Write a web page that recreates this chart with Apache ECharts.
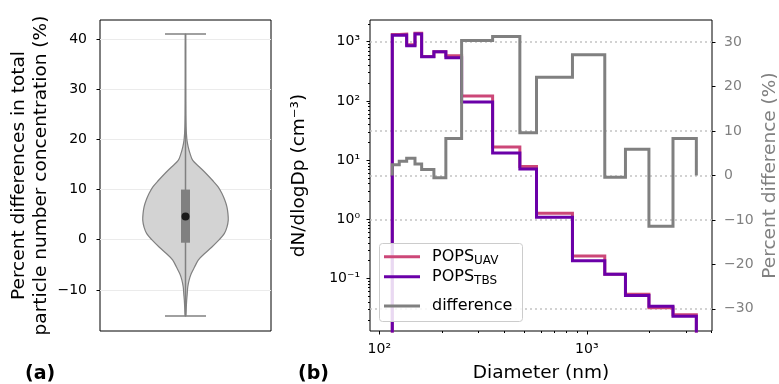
<!DOCTYPE html>
<html>
<head>
<meta charset="utf-8">
<script src="https://cdn.jsdelivr.net/npm/echarts@6/dist/echarts.min.js"></script>
<style>
  html, body { margin: 0; background: #fff; }
  #chart { width: 779px; height: 384px; }
</style>
</head>
<body>
<div id="chart"></div>
<script>
// (a) violin of percent differences: level -> relative density
const violinValues = [-15.2, -14.8, -13.4, -12, -10.8, -9.4, -8, -6.8, -5.5, -4, -2.8, -1.5, 0, 1.2, 2.5, 3.9,
  5.2, 6.5, 7.8, 9.2, 10.5, 11.8, 13.2, 14.5, 15.8, 17.2, 18.5, 19.8, 21.2, 22.5, 25, 30, 35, 41];
const violinDensity = [0.005, 0.012, 0.019, 0.028, 0.04, 0.053, 0.086, 0.133, 0.209, 0.302, 0.442, 0.612, 0.79, 0.907, 0.97, 1.0,
  0.993, 0.97, 0.923, 0.853, 0.767, 0.635, 0.481, 0.326, 0.17, 0.105, 0.063, 0.035, 0.021, 0.014, 0.008, 0.005, 0.004, 0.003];
const boxStats = { low: -15.2, q1: -0.6, median: 4.65, q3: 10, high: 41 };

// (b) size distributions, bin edges in nm
const binEdges = [115.5, 124.8, 135.5, 148.6, 160, 183.3, 209.3, 249.3, 351.7, 475.8, 572.3, 853, 1221, 1536, 1993, 2603, 3373];
const popsUav = [1320, 1340, 888, 1385, 565, 674, 580, 121, 16.6, 7.8, 1.26, 0.239, 0.118, 0.054, 0.032, 0.0245];
const popsTbs = [1290, 1300, 855, 1350, 557, 677, 535, 96, 13.2, 7.1, 1.08, 0.2, 0.118, 0.0515, 0.034, 0.023];
const percentDiff = [2.4, 3.2, 3.9, 2.6, 1.35, -0.5, 8.3, 30.4, 31.3, 9.6, 22.1, 27.2, -0.4, 5.9, -11.4, 8.3];

const violinTicks = [-10, 0, 10, 20, 30, 40];
const diamTicks = [100, 1000];
const dndlogTicks = [0.1, 1, 10, 100, 1000];
const diffTicks = [-30, -20, -10, 0, 10, 20, 30];
const diffGuides = [30, 10, 0, -10, -30];

const FONT = 'DejaVu Sans';
const violinHalf = 0.5;   // widest point, in x-axis units of panel (a)
const capHalf = 0.24;

// step outline that drops to the baseline at both ends (like plt.stairs)
function stairs(values, baseline) {
  const n = values.length;
  const pts = [[binEdges[0], baseline]];
  values.forEach((v, i) => pts.push([binEdges[i], v]));
  pts.push([binEdges[n], values[n - 1]]);
  pts.push([binEdges[n], baseline]);
  return pts;
}

function logMinor(lo, hi) {
  const out = [];
  for (let e = Math.floor(Math.log10(lo)); e <= Math.ceil(Math.log10(hi)); e++) {
    for (let m = 2; m <= 9; m++) {
      const v = m * Math.pow(10, e);
      if (v > lo && v < hi) out.push(v);
    }
  }
  return out;
}

const supMap = { '-': '\u207B', '0': '\u2070', '1': '\u00B9', '2': '\u00B2', '3': '\u00B3' };
const pow10 = (v) => '10' + String(Math.round(Math.log10(v))).split('').map((c) => supMap[c]).join('');
const minus = (v) => String(v).replace('-', '\u2212');

const xMin = 90.2, xMax = 4013;
const yMin = 0.01297, yMax = 2326;

const tickStyle = { lineStyle: { color: '#000', width: 1 } };
const labelBase = { fontFamily: FONT, fontSize: 14, color: '#000' };

const chart = echarts.init(document.getElementById('chart'), null, { renderer: 'canvas' });

const legendBase = {
  orient: 'vertical', padding: 0, itemWidth: 36, itemHeight: 3, icon: 'rect', left: 384, z: 110,
  formatter: (name) => name.replace(/_(\w+)/, '{sub|$1}'),
  textStyle: {
    fontFamily: FONT, fontSize: 16, color: '#000', lineHeight: 20, padding: [0, 0, 0, 7],
    rich: { sub: { fontFamily: FONT, fontSize: 12, lineHeight: 12, verticalAlign: 'bottom' } }
  }
};

chart.setOption({
  animation: false,
  textStyle: { fontFamily: FONT },
  grid: [
    { left: 100, top: 20, width: 171, height: 311, show: true, borderColor: '#000', borderWidth: 1, backgroundColor: 'transparent', outerBoundsMode: 'none' },
    { left: 370, top: 20, width: 342, height: 311, show: true, borderColor: '#000', borderWidth: 1, backgroundColor: 'transparent', outerBoundsMode: 'none' }
  ],
  xAxis: [
    { gridIndex: 0, type: 'value', min: -1, max: 1, axisLine: { show: false, onZero: false },
      axisTick: { show: false }, axisLabel: { show: false }, splitLine: { show: false } },
    { gridIndex: 1, type: 'log', logBase: 10, min: xMin, max: xMax, position: 'bottom',
      axisLine: { show: false, onZero: false },
      axisTick: { customValues: diamTicks, length: 3.5, ...tickStyle },
      axisLabel: { customValues: diamTicks, formatter: pow10, margin: 11, ...labelBase },
      splitLine: { show: false },
      name: 'Diameter (nm)', nameLocation: 'middle', nameGap: 31,
      nameTextStyle: { fontFamily: FONT, fontSize: 18.5, color: '#000', lineHeight: 22 } },
    { gridIndex: 1, type: 'log', logBase: 10, min: xMin, max: xMax, position: 'bottom',
      axisLine: { show: false, onZero: false },
      axisTick: { customValues: logMinor(xMin, xMax), length: 2, ...tickStyle },
      axisLabel: { show: false }, splitLine: { show: false } }
  ],
  yAxis: [
    { gridIndex: 0, type: 'value', min: -18.2, max: 43.8, position: 'left',
      axisLine: { show: false, onZero: false },
      axisTick: { customValues: violinTicks, length: 3.5, ...tickStyle },
      axisLabel: { customValues: violinTicks, formatter: minus, margin: 13, ...labelBase },
      splitLine: { show: true, lineStyle: { color: '#ebebeb', width: 1 } },
      name: 'Percent differences in total\nparticle number concentration (%)',
      nameLocation: 'middle', nameRotate: 90, nameGap: 48,
      nameTextStyle: { fontFamily: FONT, fontSize: 18.5, color: '#000', lineHeight: 22 } },
    { gridIndex: 1, type: 'log', logBase: 10, min: yMin, max: yMax, position: 'left',
      axisLine: { show: false, onZero: false },
      axisTick: { customValues: dndlogTicks, length: 3.5, ...tickStyle },
      axisLabel: { customValues: dndlogTicks, formatter: pow10, margin: 10, ...labelBase },
      splitLine: { show: false },
      name: 'dN/dlogDp (cm\u207B\u00B3)', nameLocation: 'middle', nameRotate: 90, nameGap: 60,
      nameTextStyle: { fontFamily: FONT, fontSize: 18.5, color: '#000', lineHeight: 22 } },
    { gridIndex: 1, type: 'value', min: -35, max: 35, position: 'right',
      axisLine: { show: false, onZero: false },
      axisTick: { customValues: diffTicks, length: 3.5, ...tickStyle },
      axisLabel: { customValues: diffTicks, formatter: minus, margin: 12, ...labelBase, color: '#808080' },
      splitLine: { show: false },
      name: 'Percent difference (%)', nameLocation: 'middle', nameRotate: 90, nameGap: 47,
      nameTextStyle: { fontFamily: FONT, fontSize: 18.5, color: '#808080', lineHeight: 22 } },
    { gridIndex: 1, type: 'log', logBase: 10, min: yMin, max: yMax, position: 'left',
      axisLine: { show: false, onZero: false },
      axisTick: { customValues: logMinor(yMin, yMax), length: 2, ...tickStyle },
      axisLabel: { show: false }, splitLine: { show: false } }
  ],
  legend: [
    { ...legendBase, data: ['POPS_UAV'], top: 246.7 },
    { ...legendBase, data: ['POPS_TBS'], top: 266.7 },
    { ...legendBase, data: ['difference'], top: 296 }
  ],
  graphic: [
    { type: 'rect', z: 100, shape: { x: 379.5, y: 243.5, width: 143, height: 78, r: 3 },
      style: { fill: 'rgba(255,255,255,0.85)', stroke: '#cccccc', lineWidth: 1 } },
    { type: 'text', left: 25, top: 365, style: { text: '(a)', font: 'bold 19px "DejaVu Sans"', fill: '#000' } },
    { type: 'text', left: 298, top: 365, style: { text: '(b)', font: 'bold 19px "DejaVu Sans"', fill: '#000' } }
  ],
  series: [
    {
      type: 'custom', name: 'violin', xAxisIndex: 0, yAxisIndex: 0, z: 2, silent: true,
      data: [[0, boxStats.median]],
      renderItem(params, api) {
        const right = violinValues.map((v, i) => api.coord([violinDensity[i] * violinHalf, v]));
        const left = violinValues.map((v, i) => api.coord([-violinDensity[i] * violinHalf, v])).reverse();
        return {
          type: 'polygon',
          shape: { points: right.concat(left), smooth: 0.3 },
          style: { fill: '#d3d3d3', stroke: '#808080', lineWidth: 1.2 }
        };
      }
    },
    {
      type: 'custom', name: 'box', xAxisIndex: 0, yAxisIndex: 0, z: 3, silent: true,
      data: [[0, boxStats.median]],
      renderItem(params, api) {
        const top = api.coord([0, boxStats.high]);
        const bot = api.coord([0, boxStats.low]);
        const cl = api.coord([-capHalf, 0])[0];
        const cr = api.coord([capHalf, 0])[0];
        const q3 = api.coord([0, boxStats.q3]);
        const q1 = api.coord([0, boxStats.q1]);
        const ls = { stroke: '#808080', lineWidth: 1.5 };
        return {
          type: 'group',
          children: [
            { type: 'line', shape: { x1: top[0], y1: top[1], x2: bot[0], y2: bot[1] }, style: ls },
            { type: 'line', shape: { x1: cl, y1: top[1], x2: cr, y2: top[1] }, style: ls },
            { type: 'line', shape: { x1: cl, y1: bot[1], x2: cr, y2: bot[1] }, style: ls },
            { type: 'rect', shape: { x: q3[0] - 4.5, y: q3[1], width: 9, height: q1[1] - q3[1] }, style: { fill: '#808080' } }
          ]
        };
      }
    },
    {
      type: 'scatter', name: 'median', xAxisIndex: 0, yAxisIndex: 0, z: 4, silent: true,
      data: [[0, boxStats.median]], symbolSize: 8, itemStyle: { color: '#000' }
    },
    {
      type: 'line', name: 'POPS_UAV', xAxisIndex: 1, yAxisIndex: 1, z: 2,
      data: stairs(popsUav, 1e-4), step: 'end', symbol: 'none', clip: true,
      itemStyle: { color: '#cc4778' },
      lineStyle: { color: '#cc4778', width: 3, join: 'miter', cap: 'butt' }
    },
    {
      type: 'line', name: 'POPS_TBS', xAxisIndex: 1, yAxisIndex: 1, z: 3,
      data: stairs(popsTbs, 1e-4), step: 'end', symbol: 'none', clip: true,
      itemStyle: { color: '#6a00a8' },
      lineStyle: { color: '#6a00a8', width: 3, join: 'miter', cap: 'butt' }
    },
    {
      type: 'line', name: 'difference', xAxisIndex: 1, yAxisIndex: 2, z: 4,
      data: stairs(percentDiff, 0), step: 'end', symbol: 'none', clip: true,
      itemStyle: { color: '#808080' },
      lineStyle: { color: '#808080', width: 3, join: 'miter', cap: 'butt' },
      markLine: {
        silent: true, symbol: 'none', z: 1, animation: false,
        label: { show: false },
        lineStyle: { color: '#c4c4c4', type: [2, 3], width: 1.5 },
        data: diffGuides.map((v) => ({ yAxis: v }))
      }
    }
  ]
});
</script>
</body>
</html>
